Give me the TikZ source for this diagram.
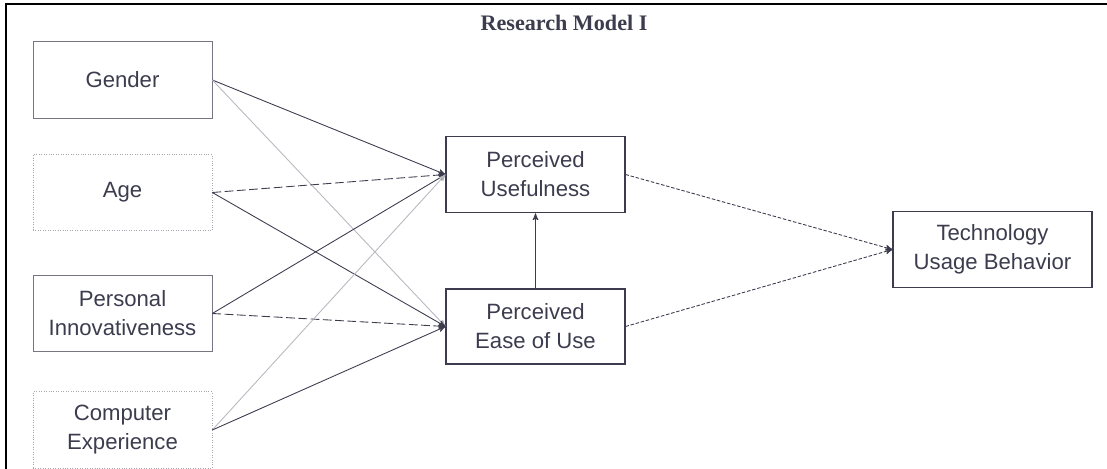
\documentclass[tikz,border=0pt]{standalone}
\usepackage{fontspec}
\setmainfont{Liberation Sans}
\newfontfamily\titlefont{Liberation Serif}
\usetikzlibrary{arrows}
\definecolor{ink}{HTML}{3C3C4E}
\definecolor{faint}{HTML}{B8B8C0}
\tikzset{
    factor/.style={draw=ink!70,thin,minimum width=3.58cm,minimum height=1.53cm,inner sep=0pt,align=center,text=ink,font=\fontsize{12.6}{16.5}\selectfont},
    faintfactor/.style={factor,draw=ink!45,densely dotted},
    construct/.style={factor,draw=ink,semithick},
    effect/.style={ink,->,>=stealth',line width=0.5pt},
    weakeffect/.style={effect,draw=faint},
    dashedeffect/.style={effect,dash pattern=on 5pt off 2pt},
    dottedeffect/.style={effect,dash pattern=on 2pt off 1pt}
}
\begin{document}
\begin{tikzpicture}[x=0.02cm,y=-0.02cm]
\useasboundingbox (0,0) rectangle (1107,469);
\draw[black,line width=1.7pt] (6,469)--(6,4)--(1107,4);
\node[text=ink,font=\titlefont\bfseries\fontsize{12.6}{14}\selectfont] (title) at (564,23) {Research Model I};
% external factors
\node[factor] (gender) at (122.5,80) {Gender};
\node[faintfactor] (age) at (122.5,192.5) {Age};
\node[factor] (innov) at (122.5,313.5) {Personal\\Innovativeness};
\node[faintfactor] (exper) at (122.5,430) {Computer\\Experience};
% TAM constructs
\node[construct] (useful) at (535.5,174.5) {Perceived\\Usefulness};
\node[construct,minimum height=1.5cm] (ease) at (535.5,326.5) {Perceived\\Ease of Use};
\node[construct,minimum width=3.98cm] (usage) at (992.5,249.5) {Technology\\Usage Behavior};
\draw[effect] (gender.east) -- (useful.west);
\draw[weakeffect] (gender.east) -- (ease.west);
\draw[dashedeffect] (age.east) -- (useful.west);
\draw[effect] (age.east) -- (ease.west);
\draw[effect] (innov.east) -- (useful.west);
\draw[dashedeffect] (innov.east) -- (ease.west);
\draw[weakeffect] (exper.east) -- (useful.west);
\draw[effect] (exper.east) -- (ease.west);
\draw[effect] (ease) -- (useful);
\draw[dottedeffect] (useful.east) -- (usage.west);
\draw[dottedeffect] (ease.east) -- (usage.west);
\end{tikzpicture}
\end{document}
